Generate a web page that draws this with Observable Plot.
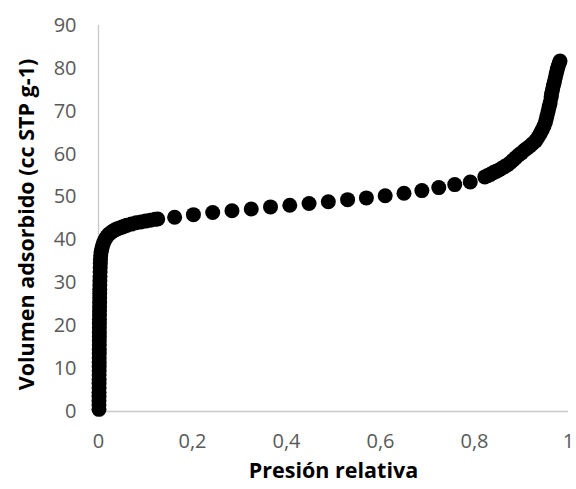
<!DOCTYPE html>
<html>
<head>
<meta charset="utf-8">
<script src="https://cdn.jsdelivr.net/npm/d3@7"></script>
<script src="https://cdn.jsdelivr.net/npm/@observablehq/plot@0.6"></script>
<style>
  html, body { margin: 0; padding: 0; background: white; }
</style>
</head>
<body>
<div id="chart"></div>
<script>
// Relative pressure (P/P0)
const pressure = [
  0.001, 0.001, 0.001, 0.0011, 0.0011, 0.0012, 0.0012, 0.0013, 0.0013, 0.0014,
  0.0014, 0.0015, 0.0015, 0.0016, 0.0016, 0.0017, 0.0017, 0.0018, 0.0018, 0.0019,
  0.0019, 0.002, 0.0021, 0.0022, 0.0023, 0.0024, 0.0025, 0.0026, 0.0027, 0.0028,
  0.003, 0.0032, 0.0034, 0.0036, 0.0039, 0.0042,
  0.0047, 0.0055, 0.0068, 0.0085, 0.0105, 0.013, 0.0155, 0.018, 0.021, 0.024,
  0.0275, 0.031, 0.0355, 0.04, 0.045, 0.05, 0.055, 0.06, 0.07, 0.08,
  0.09, 0.1, 0.11, 0.12, 0.126,
  0.162, 0.202, 0.243, 0.284, 0.325, 0.366, 0.407, 0.448, 0.489, 0.53,
  0.57, 0.61, 0.65, 0.688, 0.724, 0.758, 0.791,
  0.822, 0.828, 0.834, 0.84, 0.846, 0.852, 0.858, 0.864, 0.87, 0.876,
  0.882, 0.888, 0.894, 0.9, 0.906, 0.912, 0.918, 0.924, 0.93, 0.935,
  0.94, 0.944, 0.948, 0.951, 0.953, 0.955, 0.957, 0.959, 0.961, 0.963,
  0.964, 0.966, 0.968, 0.97, 0.972, 0.974, 0.976, 0.978, 0.98, 0.982
];
// Adsorbed volume (cc STP g-1)
const volume = [
  0.5, 1.5, 2.5, 3.5, 4.5, 5.5, 6.5, 7.5, 8.5, 9.5,
  10.5, 11.5, 12.5, 13.5, 14.5, 15.5, 16.5, 17.5, 18.5, 19.5,
  20.5, 21.5, 22.5, 23.5, 24.5, 25.5, 26.5, 27.5, 28.5, 29.5,
  30.5, 31.5, 32.5, 33.5, 34.5, 35.5,
  36.4, 37.2, 37.9, 38.6, 39.3, 39.9, 40.4, 40.8, 41.2, 41.5,
  41.8, 42.1, 42.35, 42.6, 42.8, 43.0, 43.2, 43.4, 43.7, 44.0,
  44.2, 44.4, 44.6, 44.8, 44.9,
  45.3, 45.9, 46.4, 46.8, 47.2, 47.7, 48.1, 48.5, 48.9, 49.4,
  49.8, 50.3, 50.9, 51.5, 52.2, 52.9, 53.5,
  54.7, 55.0, 55.3, 55.7, 56.0, 56.3, 56.7, 57.1, 57.5, 58.0,
  58.6, 59.2, 59.8, 60.3, 60.9, 61.4, 61.9, 62.5, 63.1, 63.9,
  64.8, 65.7, 66.6, 67.5, 68.4, 69.3, 70.2, 71.1, 72.0, 73.2,
  74.1, 75.0, 76.0, 76.9, 77.9, 78.8, 79.7, 80.5, 81.2, 81.7
];
const xTicks = [0, 0.2, 0.4, 0.6, 0.8, 1];
const yTicks = [0, 10, 20, 30, 40, 50, 60, 70, 80, 90];
const xLabel = "Presión relativa";
const yLabel = "Volumen adsorbido (cc STP g-1)";

const data = pressure.map((p, i) => ({p, v: volume[i]}));

const chart = Plot.plot({
  width: 576,
  height: 489,
  marginLeft: 98,
  marginRight: 8,
  marginTop: 25,
  marginBottom: 78,
  style: {fontFamily: "'Open Sans', Lato, sans-serif", fontSize: "20px", color: "#595959", background: "white"},
  x: {domain: [0, 1]},
  y: {domain: [0, 90]},
  marks: [
    Plot.ruleY([0], {stroke: "#c8c8c8", strokeWidth: 1.3}),
    Plot.ruleX([0], {stroke: "#c8c8c8", strokeWidth: 1.3}),
    Plot.axisX({ticks: xTicks, tickSize: 0, tickPadding: 22, label: null,
      tickFormat: d => String(d).replace(".", ","), fill: "#595959"}),
    Plot.axisY({ticks: yTicks, tickSize: 0, tickPadding: 22, label: null, fill: "#595959"}),
    Plot.dot(data, {x: "p", y: "v", r: 7.5, fill: "black", stroke: "none"}),
    Plot.text([xLabel], {frameAnchor: "bottom", dy: 66, fontWeight: "bold", fontSize: 21.5, fill: "black"}),
    Plot.text([yLabel], {frameAnchor: "left", textAnchor: "middle", rotate: -90, dx: -71, dy: 6, fontWeight: "bold", fontSize: 21.5, fill: "black"})
  ]
});
document.getElementById("chart").append(chart);
</script>
</body>
</html>
